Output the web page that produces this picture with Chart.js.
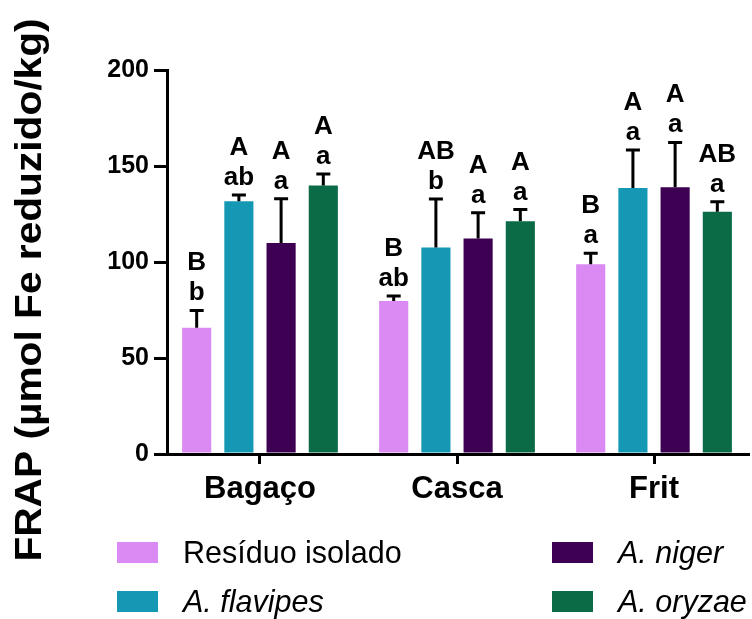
<!DOCTYPE html>
<html lang="pt">
<head>
<meta charset="UTF-8">
<title>FRAP</title>
<script src="https://cdn.jsdelivr.net/npm/chart.js"></script>
<style>
    body {
        margin: 0;
        background: #fff;
        font-family: "Liberation Sans", Arial, sans-serif;
    }
    #wrap {
        position: relative;
        width: 752px;
        height: 619px;
    }
    /* legenda em duas colunas, como no original */
    #legenda {
        position: absolute;
        left: 117px;
        top: 528px;
        display: grid;
        grid-template-rows: 49px 49px;
        grid-template-columns: 435px 200px;
        grid-auto-flow: column;
    }
    .item {
        display: flex;
        align-items: center;
        font-size: 30.5px;
        color: #000;
        white-space: nowrap;
    }
    .cor {
        width: 41px;
        height: 21px;
        margin-right: 25px;
    }
</style>
</head>
<body>
<div id="wrap">
    <canvas id="grafico"></canvas>
    <div id="legenda"></div>
</div>

<script>
    // dados
    const categorias = ['Bagaço', 'Casca', 'Frit'];
    const series = ['Resíduo isolado', 'A. flavipes', 'A. niger', 'A. oryzae'];
    const italico = [false, true, true, true];
    const cores = ['#DA8AF2', '#1598B3', '#3E0052', '#0B6B47'];

    const residuo = [65.8, 79.7, 98.8];
    const flavipes = [131.6, 107.6, 138.5];
    const niger = [109.9, 112.3, 138.9];
    const oryzae = [139.9, 121.2, 126.2];

    const errResiduo = [9.0, 2.6, 5.7];
    const errFlavipes = [3.3, 25.2, 19.8];
    const errNiger = [23.1, 13.4, 23.4];
    const errOryzae = [5.9, 6.1, 5.2];

    // letras de significância (maiúsculas em cima, minúsculas embaixo)
    const letrasMai = [['B', 'B', 'B'], ['A', 'AB', 'A'], ['A', 'A', 'A'], ['A', 'A', 'AB']];
    const letrasMin = [['b', 'ab', 'a'], ['ab', 'b', 'a'], ['a', 'a', 'a'], ['a', 'a', 'a']];

    const tituloY = 'FRAP (µmol Fe reduzido/kg)';
    const ticksY = [0, 50, 100, 150, 200];

    const valores = [residuo, flavipes, niger, oryzae];
    const erros = [errResiduo, errFlavipes, errNiger, errOryzae];

    const fonte = '"Liberation Sans", Arial, sans-serif';

    // barras de erro + letras + título do eixo Y
    const extras = {
        id: 'extras',
        afterDatasetsDraw(chart) {
            const c = chart.ctx;
            const y = chart.scales.y;
            valores.forEach((serie, i) => {
                chart.getDatasetMeta(i).data.forEach((bar, j) => {
                    const topo = y.getPixelForValue(serie[j] + erros[i][j]);
                    c.save();
                    c.strokeStyle = '#000';
                    c.lineWidth = 3;
                    c.beginPath();
                    c.moveTo(bar.x, bar.y);
                    c.lineTo(bar.x, topo);
                    c.moveTo(bar.x - 7, topo);
                    c.lineTo(bar.x + 7, topo);
                    c.stroke();
                    c.fillStyle = '#000';
                    c.font = 'bold 26px ' + fonte;
                    c.textAlign = 'center';
                    c.textBaseline = 'alphabetic';
                    c.fillText(letrasMin[i][j], bar.x, topo - 10);
                    c.fillText(letrasMai[i][j], bar.x, topo - 40);
                    c.restore();
                });
            });
        },
        afterDraw(chart) {
            const c = chart.ctx;
            c.save();
            c.translate(41, 290);
            c.rotate(-Math.PI / 2);
            c.scale(1.13, 1);
            c.fillStyle = '#000';
            c.font = 'bold 36px ' + fonte;
            c.textAlign = 'center';
            c.textBaseline = 'alphabetic';
            c.fillText(tituloY, 0, 0);
            c.restore();
        }
    };

    const ctx = document.getElementById('grafico').getContext('2d');
    const grafico = new Chart(ctx, {
        type: 'bar',
        data: {
            datasets: series.map((nome, i) => ({
                label: nome,
                data: valores[i].map((v, j) => ({ x: j, y: v })),
                backgroundColor: cores[i],
                borderWidth: 0,
                barPercentage: 0.69,
                categoryPercentage: 0.857
            }))
        },
        options: {
            responsive: true,
            maintainAspectRatio: false,
            animation: false,
            layout: { padding: { left: 0, right: 4, top: 70, bottom: 75 } },
            plugins: {
                legend: { display: false },
                tooltip: { enabled: false }
            },
            scales: {
                x: {
                    type: 'linear',
                    offset: false,
                    min: -0.472,
                    max: 2.477,
                    afterBuildTicks: s => { s.ticks = categorias.map((c, i) => ({ value: i })); },
                    afterFit: s => { s.height = 90; },
                    ticks: {
                        callback: v => categorias[v],
                        color: '#000',
                        font: { family: fonte, size: 31, weight: 'bold' },
                        padding: 7,
                        maxRotation: 0,
                        autoSkip: false
                    },
                    grid: { offset: false, drawOnChartArea: false, tickLength: 10, color: '#000', lineWidth: 3 },
                    border: { color: '#000', width: 3 }
                },
                y: {
                    min: 0,
                    max: 200,
                    afterBuildTicks: s => { s.ticks = ticksY.map(v => ({ value: v })); },
                    afterFit: s => { s.width = 167; },
                    ticks: {
                        color: '#000',
                        font: { family: fonte, size: 25, weight: 'bold' },
                        padding: 5
                    },
                    grid: { drawOnChartArea: false, tickLength: 13, color: '#000', lineWidth: 3 },
                    border: { color: '#000', width: 3 }
                }
            }
        },
        plugins: [extras]
    });

    // legenda em HTML (precisa de itálico nos nomes das espécies)
    const legenda = document.getElementById('legenda');
    series.forEach((nome, i) => {
        const item = document.createElement('div');
        item.className = 'item';
        item.innerHTML = '<span class="cor" style="background:' + cores[i] + '"></span>' +
            '<span style="font-style:' + (italico[i] ? 'italic' : 'normal') + '">' + nome + '</span>';
        legenda.appendChild(item);
    });
</script>
</body>
</html>
